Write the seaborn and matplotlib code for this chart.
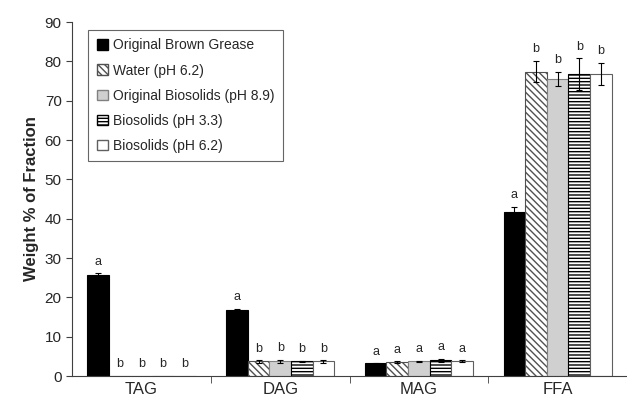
import pandas as pd
import seaborn as sns
import matplotlib.pyplot as plt
import numpy as np
from matplotlib.patches import Patch

# Data
fractions = ["TAG", "DAG", "MAG", "FFA"]
treatments = [
    "Original Brown Grease",
    "Water (pH 6.2)",
    "Original Biosolids (pH 8.9)",
    "Biosolids (pH 3.3)",
    "Biosolids (pH 6.2)",
]
brown_grease = [25.8, 16.8, 3.2, 41.8]
water_62 = [0.0, 3.7, 3.6, 77.4]
biosolids_89 = [0.0, 3.7, 3.7, 75.5]
biosolids_33 = [0.0, 3.7, 4.0, 76.8]
biosolids_62 = [0.0, 3.7, 3.8, 76.8]

err_brown = [0.3, 0.3, 0.1, 1.2]
err_water = [0.0, 0.3, 0.2, 2.7]
err_bio89 = [0.0, 0.4, 0.2, 1.8]
err_bio33 = [0.0, 0.2, 0.4, 4.0]
err_bio62 = [0.0, 0.3, 0.2, 2.9]

letters_brown = ["a", "a", "a", "a"]
letters_water = ["b", "b", "a", "b"]
letters_bio89 = ["b", "b", "a", "b"]
letters_bio33 = ["b", "b", "a", "b"]
letters_bio62 = ["b", "b", "a", "b"]

values = [brown_grease, water_62, biosolids_89, biosolids_33, biosolids_62]
errors = [err_brown, err_water, err_bio89, err_bio33, err_bio62]
letters = [letters_brown, letters_water, letters_bio89, letters_bio33, letters_bio62]

rows = []
for t, vals in zip(treatments, values):
    for f, v in zip(fractions, vals):
        rows.append({"fraction": f, "treatment": t, "value": v})
df = pd.DataFrame(rows)

sns.set_style("ticks")
plt.rcParams['font.family'] = ['Liberation Sans', 'DejaVu Sans']
plt.rcParams['hatch.linewidth'] = 1.0

colors = ["black", "white", "#d0d0d0", "white", "white"]
hatches = [None, "\\\\\\\\\\", None, "-----", None]
edges = ["black", "#505050", "#808080", "black", "#606060"]
group_width = 0.78

fig, ax = plt.subplots(figsize=(6.27, 4.0), dpi=100)
sns.barplot(data=df, x="fraction", y="value", hue="treatment",
            hue_order=treatments, order=fractions, palette=colors,
            errorbar=None, width=group_width, saturation=1, ax=ax, legend=False)

bar_containers = list(ax.containers)
bw = group_width / len(treatments)
for i, cont in enumerate(bar_containers):
    for bar in cont.patches:
        if bar is None:
            continue
        bar.set_edgecolor(edges[i])
        bar.set_linewidth(0.8)
        if hatches[i]:
            bar.set_hatch(hatches[i])
    for j in range(len(fractions)):
        xc = j + (i - (len(treatments) - 1) / 2) * bw
        h = values[i][j]
        e = errors[i][j]
        if e > 0:
            ax.errorbar(xc, h, yerr=e, fmt="none", ecolor="black",
                        elinewidth=0.8, capsize=2, capthick=0.8)
        ax.text(xc, h + e + 1.4, letters[i][j], ha="center", va="bottom",
                fontsize=9)

# legend
handles = [Patch(facecolor=colors[i], edgecolor=edges[i] if i else "black",
                 hatch=hatches[i], label=treatments[i]) for i in range(5)]
leg = ax.legend(handles=handles, loc="upper left",
                bbox_to_anchor=(0.029, 0.977), borderaxespad=0, fontsize=10,
                frameon=True, fancybox=False, handlelength=0.8,
                handleheight=0.8, handletextpad=0.4, labelspacing=0.8,
                borderpad=0.6)
leg.get_frame().set_edgecolor("#404040")
leg.get_frame().set_linewidth(0.8)

ax.set_ylim(0, 90)
ax.set_xlim(-0.5, 3.5)
ax.set_yticks(np.arange(0, 91, 10))
ax.set_xticks(np.arange(4))
ax.set_xticks([0.5, 1.5, 2.5], minor=True)
ax.tick_params(axis="x", which="major", length=0, labelsize=12, pad=4)
ax.tick_params(axis="x", which="minor", length=5, color="#404040")
ax.tick_params(axis="y", labelsize=11, length=4, color="#404040")
ax.set_xlabel("")
ax.set_ylabel("Weight % of Fraction", fontsize=12, fontweight="bold")
sns.despine(ax=ax)
for s in ["left", "bottom"]:
    ax.spines[s].set_color("#404040")
    ax.spines[s].set_linewidth(0.8)

fig.subplots_adjust(left=0.115, right=1.0, bottom=0.06, top=0.945)
fig.savefig("out.png", dpi=100)
